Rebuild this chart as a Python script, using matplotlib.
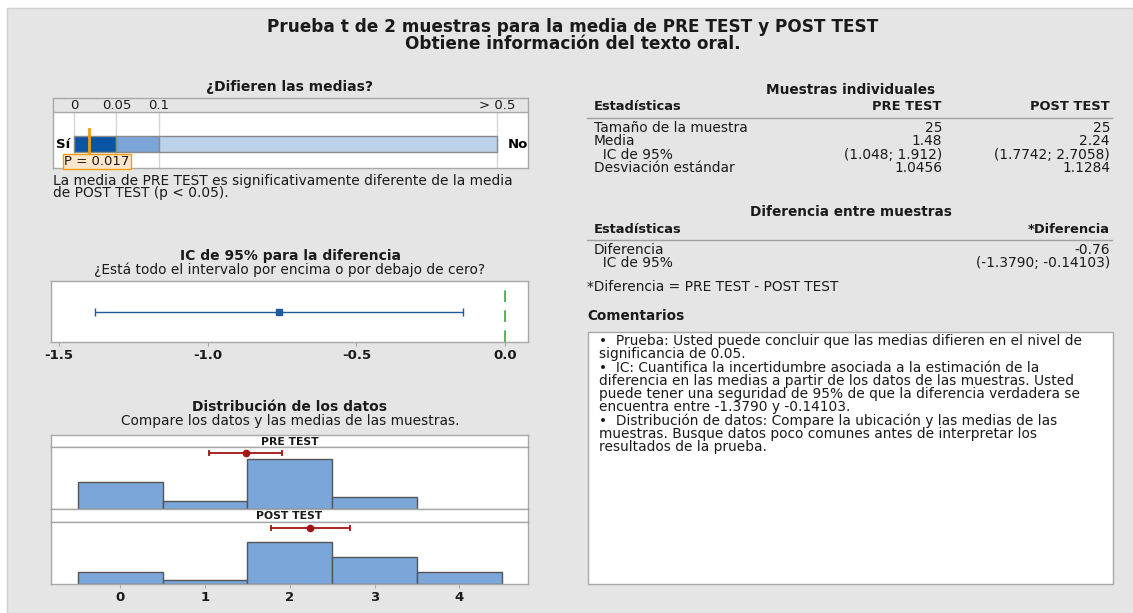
import numpy as np
import matplotlib
matplotlib.use("Agg")
import matplotlib.pyplot as plt
from matplotlib.patches import Rectangle
from matplotlib.lines import Line2D

plt.rcParams['font.family'] = ['DejaVu Sans']

# ---------------- data ----------------
p_value = 0.017
p_ticks = [0, 0.05, 0.1, 0.5]
p_tick_labels = ['0', '0.05', '0.1', '> 0.5']
p_pos = [0, 1, 2, 10]          # position of each threshold on the scale

diff = -0.76
diff_ci = (-1.3790, -0.14103)
ci_ticks = [-1.5, -1.0, -0.5, 0.0]

bins = [0, 1, 2, 3, 4]
pre_counts = [7, 2, 13, 3, 0]
post_counts = [3, 1, 11, 7, 3]
pre_mean, pre_ci = 1.48, (1.048, 1.912)
post_mean, post_ci = 2.24, (1.7742, 2.7058)

stats_rows = ['Tamaño de la muestra', 'Media', '  IC de 95%', 'Desviación estándar']
pre_vals = ['25', '1.48', '(1.048; 1.912)', '1.0456']
post_vals = ['25', '2.24', '(1.7742; 2.7058)', '1.1284']
diff_rows = ['Diferencia', '  IC de 95%']
diff_vals = ['-0.76', '(-1.3790; -0.14103)']

comments = [
    '•  Prueba: Usted puede concluir que las medias difieren en el nivel de',
    'significancia de 0.05.',
    '•  IC: Cuantifica la incertidumbre asociada a la estimación de la',
    'diferencia en las medias a partir de los datos de las muestras. Usted',
    'puede tener una seguridad de 95% de que la diferencia verdadera se',
    'encuentra entre -1.3790 y -0.14103.',
    '•  Distribución de datos: Compare la ubicación y las medias de las',
    'muestras. Busque datos poco comunes antes de interpretar los',
    'resultados de la prueba.',
]

# ---------------- figure ----------------
W, H = 1133, 613
fig = plt.figure(figsize=(W / 100, H / 100), dpi=100)
fig.patch.set_facecolor('white')
fig.add_artist(Rectangle((7 / W, 0), 1, 1 - 8 / H, transform=fig.transFigure,
                         facecolor='#e5e5e5', edgecolor='#cfcfcf', lw=1, zorder=-5))

BORDER = '#a8a8a8'
TXT = '#1a1a1a'
FS = 9.9


def ax_px(x0, y0, x1, y1):
    return fig.add_axes([x0 / W, 1 - y1 / H, (x1 - x0) / W, (y1 - y0) / H])


def ftext(x, y, s, **kw):
    kw.setdefault('fontsize', FS)
    kw.setdefault('color', TXT)
    kw.setdefault('va', 'center')
    return fig.text(x / W, 1 - y / H, s, **kw)


def hline(x0, x1, y, color='#a0a0a0', lw=1):
    fig.add_artist(Line2D([x0 / W, x1 / W], [1 - y / H, 1 - y / H],
                          transform=fig.transFigure, color=color, lw=lw))


def frame(ax):
    for s in ax.spines.values():
        s.set_color(BORDER)
        s.set_linewidth(1)


# title
ftext(573, 27, 'Prueba t de 2 muestras para la media de PRE TEST y POST TEST',
      ha='center', fontsize=12.2, fontweight='bold')
ftext(573, 44, 'Obtiene información del texto oral.', ha='center',
      fontsize=12.2, fontweight='bold')

# ---------- p-value bar ----------
ftext(290, 87, '¿Difieren las medias?', ha='center', fontsize=10, fontweight='bold')
ax = ax_px(53, 98, 528, 168)
ax.set_xlim(-0.5, 10.73)
ax.set_ylim(70, 0)
ax.axhspan(0, 14, color='#e5e5e5', zorder=0)
ax.axhline(14, color=BORDER, lw=1)
for pp, lab in zip(p_pos, p_tick_labels):
    ax.plot([pp, pp], [14, 70], color='#d5d5d5', lw=1, zorder=1)
    ax.text(pp, 7.5, lab, ha='center', va='center', fontsize=9.5, color=TXT)
seg_cols = ['#0a55a3', '#7aa5d6', '#bcd2ea']
for i, c in enumerate(seg_cols):
    ax.barh(46, p_pos[i + 1] - p_pos[i], left=p_pos[i], height=16,
            color=c, edgecolor='#8a8a8a', lw=1, zorder=2)
p_x = np.interp(p_value, p_ticks, p_pos)
ax.plot([p_x, p_x], [31, 58], color='#f39c12', lw=2, zorder=4)
ax.text(-0.24, 63.5, 'P = 0.017', ha='left', va='center', fontsize=9.5, color=TXT,
        zorder=5, bbox=dict(boxstyle='square,pad=0.1', facecolor='#fbe6cc',
                            edgecolor='#f39c12', lw=1))
ax.text(-0.42, 46, 'Sí', ha='left', va='center', fontsize=9.5, fontweight='bold')
ax.text(10.25, 46, 'No', ha='left', va='center', fontsize=9.5, fontweight='bold')
ax.set_xticks([])
ax.set_yticks([])
frame(ax)
ftext(53, 181, 'La media de PRE TEST es significativamente diferente de la media', ha='left')
ftext(53, 193, 'de POST TEST (p < 0.05).', ha='left')

# ---------- CI of difference ----------
ftext(290, 256, 'IC de 95% para la diferencia', ha='center', fontsize=10, fontweight='bold')
ftext(290, 270, '¿Está todo el intervalo por encima o por debajo de cero?', ha='center')
ax = ax_px(51, 281, 528, 342)
ax.set_xlim(-1.527, 0.077)
ax.set_ylim(0, 1)
ax.errorbar([diff], [0.5], xerr=[[diff - diff_ci[0]], [diff_ci[1] - diff]],
            fmt='s', color='#1f5a9e', ms=5, lw=1, capsize=3, capthick=1)
ax.axvline(0, color='#3aa83a', lw=1.2, dashes=(7, 5))
ax.set_xticks(ci_ticks)
ax.set_xticklabels(['%.1f' % t for t in ci_ticks], fontsize=9.5, fontweight='bold', color=TXT)
ax.set_yticks([])
ax.tick_params(axis='x', length=3, color=BORDER, pad=2)
frame(ax)

# ---------- data distribution ----------
ftext(290, 407, 'Distribución de los datos', ha='center', fontsize=10, fontweight='bold')
ftext(290, 421, 'Compare los datos y las medias de las muestras.', ha='center')
panels = [('PRE TEST', pre_counts, pre_mean, pre_ci, 435, 447, 509),
          ('POST TEST', post_counts, post_mean, post_ci, 509, 522, 584)]
ymax = 16.1
for name, counts, mean, ci, s0, s1, p1 in panels:
    sa = ax_px(51, s0, 528, s1)
    sa.set_xticks([])
    sa.set_yticks([])
    frame(sa)
    sa.text(0.5, 0.45, name, transform=sa.transAxes, ha='center', va='center',
            fontsize=7.8, fontweight='bold', color=TXT)
    ha = ax_px(51, s1, 528, p1)
    ha.set_xlim(-0.815, 4.81)
    ha.set_ylim(0, ymax)
    xs = [b for b, c in zip(bins, counts) if c > 0]
    hs = [c for c in counts if c > 0]
    ha.bar(xs, hs, width=1, color='#7ba6d9', edgecolor='#555555', lw=1)
    ha.errorbar([mean], [14.5], xerr=[[mean - ci[0]], [ci[1] - mean]], fmt='o',
                color='#a31515', ms=4.5, lw=1.3, capsize=2.5, capthick=1.3)
    ha.set_yticks([])
    frame(ha)
    if name == 'PRE TEST':
        ha.set_xticks([])
    else:
        ha.set_xticks(bins)
        ha.set_xticklabels([str(b) for b in bins], fontsize=9.5, fontweight='bold', color=TXT)
        ha.tick_params(axis='x', length=3, color=BORDER, pad=2)

# ---------- right side tables ----------
ftext(851, 90, 'Muestras individuales', ha='center', fontsize=9.8, fontweight='bold')
ftext(594, 107, 'Estadísticas', ha='left', fontweight='bold', fontsize=9.4)
ftext(942, 107, 'PRE TEST', ha='right', fontweight='bold', fontsize=9.4)
ftext(1110, 107, 'POST TEST', ha='right', fontweight='bold', fontsize=9.4)
hline(587, 1112, 118)
for i, (r, a, b) in enumerate(zip(stats_rows, pre_vals, post_vals)):
    y = 128 + i * 13.4
    ftext(594, y, r, ha='left')
    ftext(942, y, a, ha='right')
    ftext(1110, y, b, ha='right')

ftext(851, 212, 'Diferencia entre muestras', ha='center', fontsize=9.8, fontweight='bold')
ftext(594, 229, 'Estadísticas', ha='left', fontweight='bold', fontsize=9.4)
ftext(1110, 229, '*Diferencia', ha='right', fontweight='bold', fontsize=9.4)
hline(587, 1112, 240)
for i, (r, v) in enumerate(zip(diff_rows, diff_vals)):
    y = 250 + i * 13.4
    ftext(594, y, r, ha='left')
    ftext(1110, y, v, ha='right')
ftext(587, 287, '*Diferencia = PRE TEST - POST TEST', ha='left')

ftext(587, 316, 'Comentarios', ha='left', fontsize=9.8, fontweight='bold')
fig.add_artist(Rectangle((588 / W, 1 - 584 / H), (1113 - 588) / W, (584 - 332) / H,
                         transform=fig.transFigure, facecolor='white',
                         edgecolor='#a8a8a8', lw=1, zorder=-1))
for i, line in enumerate(comments):
    ftext(599, 341 + i * 13.3, line, ha='left')

fig.savefig('out.png', dpi=100)
